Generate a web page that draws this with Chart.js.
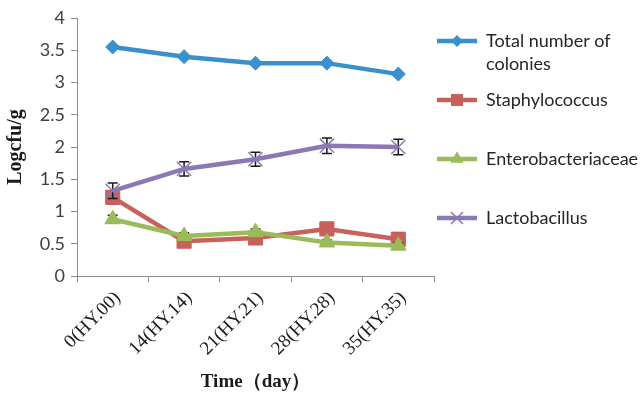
<!DOCTYPE html>
<html>
<head>
<meta charset="utf-8">
<script src="https://cdn.jsdelivr.net/npm/chart.js@4.4.1/dist/chart.umd.min.js"></script>
<style>
  html, body { margin: 0; padding: 0; background: #ffffff; }
  #wrap { width: 643px; height: 394px; position: relative; }
</style>
</head>
<body>
<div id="wrap"><canvas id="c" width="643" height="394"></canvas></div>
<script>
// Sampling days (with sample codes)
const categories = ['0(HY.00)', '14(HY.14)', '21(HY.21)', '28(HY.28)', '35(HY.35)'];

// Series names, as shown in the legend (line breaks included)
const seriesLabels = [['Total number of', 'colonies'], ['Staphylococcus'], ['Enterobacteriaceae'], ['Lactobacillus']];

// Counts, log cfu/g
const totalColonies      = [3.55, 3.40, 3.30, 3.30, 3.13];
const staphylococcus     = [1.22, 0.54, 0.59, 0.73, 0.57];
const enterobacteriaceae = [0.88, 0.62, 0.68, 0.52, 0.47];
const lactobacillus      = [1.32, 1.66, 1.81, 2.02, 2.00];

// Standard deviations (error bars)
const totalError = [0, 0, 0, 0, 0];
const staphError = [0.10, 0.08, 0.08, 0.10, 0.10];
const enteroError = [0.06, 0.05, 0.05, 0.04, 0.04];
const lactoError = [0.12, 0.11, 0.11, 0.12, 0.12];

// Y axis tick labels
const yTickValues = [0, 0.5, 1, 1.5, 2, 2.5, 3, 3.5, 4];

const COLORS = ['#3a8fcd', '#c8605b', '#9bbb59', '#8a79b5'];
const STYLES = ['rectRot', 'rect', 'triangle', 'crossRot'];
const RADII = [7, 10, 9, 10];
const values = [totalColonies, staphylococcus, enterobacteriaceae, lactobacillus];
const errors = [totalError, staphError, enteroError, lactoError];

function marker(ctx, style, x, y, r, color) {
  ctx.save();
  ctx.fillStyle = color;
  ctx.strokeStyle = color;
  ctx.beginPath();
  if (style === 'rectRot') {
    ctx.moveTo(x, y - r); ctx.lineTo(x + r, y); ctx.lineTo(x, y + r); ctx.lineTo(x - r, y); ctx.closePath();
    ctx.fill();
  } else if (style === 'rect') {
    const s = r * Math.SQRT1_2;
    ctx.rect(x - s, y - s, 2 * s, 2 * s); ctx.fill();
  } else if (style === 'triangle') {
    const a = 2 * Math.PI / 3;
    ctx.moveTo(x, y - r);
    ctx.lineTo(x + Math.sin(a) * r, y - Math.cos(a) * r);
    ctx.lineTo(x + Math.sin(2 * a) * r, y - Math.cos(2 * a) * r);
    ctx.closePath(); ctx.fill();
  } else {
    const s = r * Math.SQRT1_2;
    ctx.lineWidth = 1.5;
    ctx.moveTo(x - s, y - s); ctx.lineTo(x + s, y + s);
    ctx.moveTo(x + s, y - s); ctx.lineTo(x - s, y + s);
    ctx.stroke();
  }
  ctx.restore();
}

// Vertical error bars with caps, drawn under each series
const errorBars = {
  id: 'errorBars',
  beforeDatasetDraw(chart, args) {
    const i = args.index;
    const err = errors[i];
    const ys = chart.scales.y;
    const ctx = chart.ctx;
    const meta = chart.getDatasetMeta(i);
    ctx.save();
    ctx.strokeStyle = '#1a1a1a';
    ctx.lineWidth = 1.5;
    meta.data.forEach((pt, j) => {
      if (!err[j]) return;
      const v = values[i][j];
      const top = ys.getPixelForValue(v + err[j]);
      const bot = ys.getPixelForValue(v - err[j]);
      const x = pt.x;
      ctx.beginPath();
      ctx.moveTo(x, top); ctx.lineTo(x, bot);
      ctx.moveTo(x - 5, top); ctx.lineTo(x + 5, top);
      ctx.moveTo(x - 5, bot); ctx.lineTo(x + 5, bot);
      ctx.stroke();
    });
    ctx.restore();
  }
};

// Legend at the right of the plot
const sideLegend = {
  id: 'sideLegend',
  afterDraw(chart) {
    const ctx = chart.ctx;
    const x0 = 437, x1 = 477, tx = 486;
    const ys = [41, 100, 159, 218];
    ctx.save();
    ctx.font = '18px Lato';
    ctx.textBaseline = 'middle';
    ctx.textAlign = 'left';
    seriesLabels.forEach((lines, i) => {
      const y = ys[i];
      ctx.strokeStyle = COLORS[i];
      ctx.lineWidth = 4.5;
      ctx.beginPath(); ctx.moveTo(x0, y); ctx.lineTo(x1, y); ctx.stroke();
      marker(ctx, STYLES[i], (x0 + x1) / 2, y, RADII[i] * 0.85, COLORS[i]);
      ctx.fillStyle = '#262626';
      lines.forEach((t, k) => ctx.fillText(t, tx, y + k * 23));
    });
    ctx.restore();
  }
};

const datasets = values.map((data, i) => ({
  label: seriesLabels[i].join(' '),
  data: data,
  borderColor: COLORS[i],
  backgroundColor: COLORS[i],
  pointBackgroundColor: COLORS[i],
  pointBorderColor: COLORS[i],
  pointBorderWidth: i === 3 ? 1.5 : 1,
  pointStyle: STYLES[i],
  pointRadius: RADII[i],
  borderWidth: 4.5,
  tension: 0,
  order: 3 - i
}));

new Chart(document.getElementById('c'), {
  type: 'line',
  data: { labels: categories, datasets: datasets },
  options: {
    responsive: false,
    animation: false,
    devicePixelRatio: 1,
    layout: { padding: { left: 0, top: 18, right: 209, bottom: 0 } },
    plugins: { legend: { display: false }, tooltip: { enabled: false } },
    scales: {
      x: {
        offset: true,
        grid: { offset: true, drawOnChartArea: false, tickLength: 6, color: '#8c8c8c' },
        border: { color: '#8c8c8c', width: 1 },
        ticks: {
          minRotation: 45, maxRotation: 45, padding: 5, autoSkip: false,
          labelOffset: 5,
          color: '#1a1a1a',
          font: { family: 'Liberation Serif', size: 19 }
        },
        title: {
          display: true, text: 'Time（day）', color: '#1a1a1a',
          font: { family: 'Liberation Serif', size: 19, weight: 'bold' },
          padding: { top: 0, bottom: 1 }
        },
        afterFit(s) { s.height = 118; }
      },
      y: {
        min: 0, max: 4,
        afterBuildTicks(s) { s.ticks = yTickValues.map(v => ({ value: v })); },
        grid: { drawOnChartArea: false, tickLength: 6, color: '#8c8c8c' },
        border: { color: '#8c8c8c', width: 1 },
        ticks: {
          padding: 6, color: '#404040',
          font: { family: 'Lato', size: 18 },
          callback: v => String(v)
        },
        title: {
          display: true, text: 'Logcfu/g', color: '#1a1a1a',
          font: { family: 'Liberation Serif', size: 20, weight: 'bold' },
          padding: { top: 4, bottom: 0 }
        },
        afterFit(s) { s.width = 77; }
      }
    }
  },
  plugins: [errorBars, sideLegend]
});
</script>
</body>
</html>
